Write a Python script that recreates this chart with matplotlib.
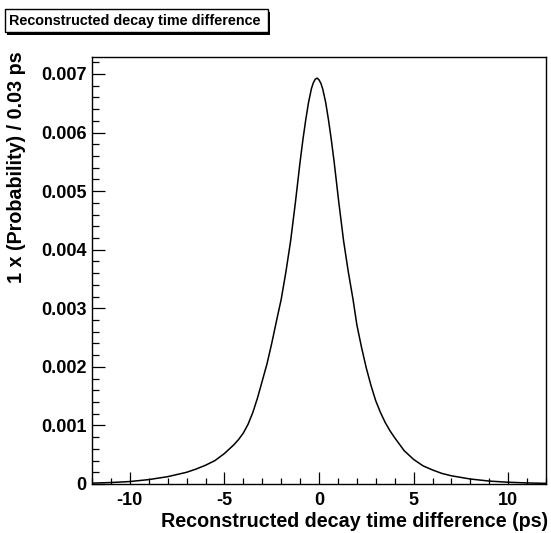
import matplotlib
matplotlib.use("Agg")
import matplotlib.pyplot as plt
from matplotlib.patches import Rectangle
from matplotlib.ticker import MultipleLocator, FuncFormatter

# points (x in ps, y in units of 1e-3)
t_ps = [-12, -11, -10, -9, -8, -7, -6.5, -6, -5.5, -5, -4.5, -4.25, -4, -3.75,
        -3.5, -3.25, -3, -2.75, -2.5, -2.25, -2, -1.75, -1.5, -1.25, -1,
        -0.85, -0.7, -0.55, -0.4, -0.3, -0.2, -0.1, 0, 0.1, 0.2, 0.35, 0.5,
        0.65, 0.8, 1.05, 1.3, 1.55, 1.8, 2.0, 2.25, 2.5, 2.75, 3.0, 3.25, 3.5,
        3.75, 4.0, 4.5, 5.0, 5.5, 6, 6.5, 7, 8, 9, 10, 11, 12]
prob_e3 = [0.015, 0.025, 0.042, 0.075, 0.125, 0.20, 0.255, 0.32, 0.40, 0.52,
           0.67, 0.76, 0.87, 1.02, 1.22, 1.47, 1.76, 2.05, 2.40, 2.78, 3.15,
           3.62, 4.15, 4.80, 5.50, 5.88, 6.22, 6.52, 6.75, 6.85, 6.91, 6.93,
           6.90, 6.84, 6.74, 6.52, 6.22, 5.88, 5.50, 4.80, 4.15, 3.62, 3.15,
           2.72, 2.33, 1.98, 1.68, 1.42, 1.22, 1.05, 0.91, 0.79, 0.57, 0.42,
           0.31, 0.24, 0.18, 0.14, 0.085, 0.05, 0.03, 0.018, 0.011]
prob = [v * 1e-3 for v in prob_e3]

title = "Reconstructed decay time difference"
xlabel = "Reconstructed decay time difference (ps)"
ylabel = "1 x (Probability) / 0.03 ps"

plt.rcParams['font.family'] = ['Liberation Sans', 'DejaVu Sans']
plt.rcParams['font.weight'] = 'bold'

fig = plt.figure(figsize=(5.51, 5.33), dpi=100)
W, H = 551, 533
ax = fig.add_axes([92 / W, 1 - 484 / H, (546 - 92) / W, (484 - 57) / H])

ax.plot(t_ps, prob, color='black', lw=1.1)
ax.set_xlim(-12, 12)
ax.set_ylim(0, 0.00729)

ax.xaxis.set_major_locator(MultipleLocator(5))
ax.xaxis.set_minor_locator(MultipleLocator(1))
ax.yaxis.set_major_locator(MultipleLocator(0.001))
ax.yaxis.set_minor_locator(MultipleLocator(0.0002))
ax.yaxis.set_major_formatter(FuncFormatter(lambda v, p: '0' if abs(v) < 1e-9 else f'{v:.3f}'))
ax.xaxis.set_major_formatter(FuncFormatter(lambda v, p: f'{v:g}'))

ax.tick_params(axis='both', which='both', direction='in', top=False, right=False,
               labelsize=13, width=0.9, color='black')
ax.tick_params(axis='x', which='major', length=8.6, pad=6)
ax.tick_params(axis='x', which='minor', length=4.3)
ax.tick_params(axis='y', which='major', length=9.4, pad=4)
ax.tick_params(axis='y', which='minor', length=4.7)
for lab in ax.get_xticklabels() + ax.get_yticklabels():
    lab.set_fontweight('bold')
for s in ax.spines.values():
    s.set_linewidth(1.0)

fig.text(548 / W, 1 - 531 / H, xlabel, ha='right', va='bottom', fontsize=14.2, fontweight='bold')
fig.text(17 / W, 1 - 51 / H, ylabel, ha='center', va='top', rotation=90, fontsize=14.2, fontweight='bold')

# title box with shadow
fig.patches.append(Rectangle((7 / W, 1 - 35 / H), 263 / W, 23 / H, transform=fig.transFigure,
                             facecolor='black', edgecolor='black', lw=0))
fig.patches.append(Rectangle((5 / W, 1 - 32 / H), 263 / W, 23 / H, transform=fig.transFigure,
                             facecolor='white', edgecolor='black', lw=1.0))
fig.text(9 / W, 1 - 20.5 / H, title, ha='left', va='center', fontsize=10.4, fontweight='bold')

fig.savefig('out.png', dpi=100)
